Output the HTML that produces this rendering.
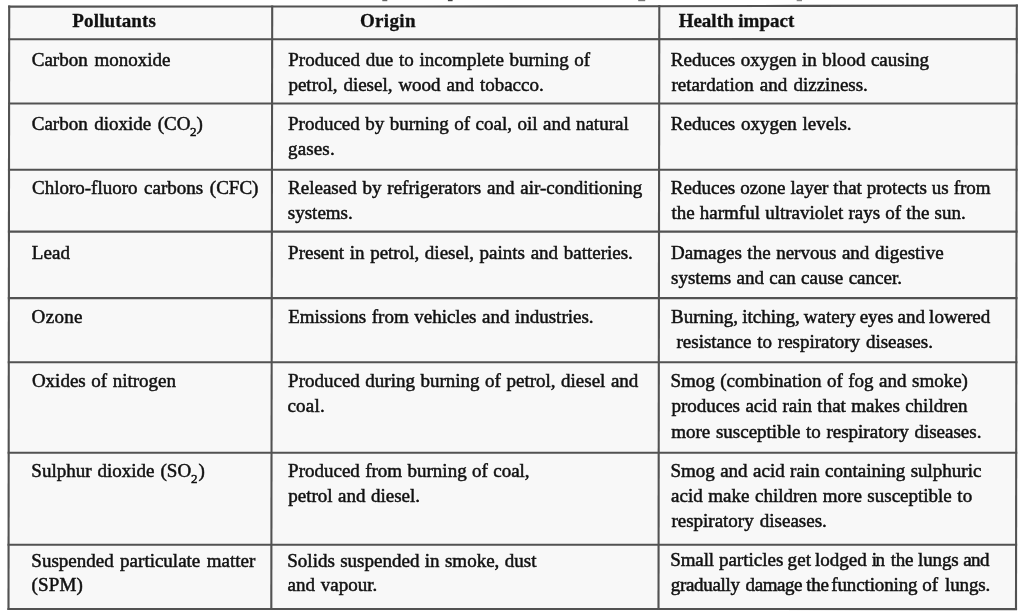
<!DOCTYPE html>
<html><head><meta charset="utf-8"><style>
html,body{margin:0;padding:0;background:#fff;width:1024px;height:614px;overflow:hidden}
svg{display:block;will-change:transform;}
line,polyline{stroke:#525252;stroke-width:2.1px}
text{font-family:"Liberation Serif",serif;font-size:19.0px;fill:#111;stroke:#111;stroke-width:0.5px;}
text.b{font-weight:bold;font-size:19.0px;stroke-width:0.3px}
text.s{font-size:13px}
</style></head><body>
<svg width="1024" height="614" viewBox="0 0 1024 614">
<g>
<rect width="1024" height="614" fill="#fff"/>
<polygon points="9.2,6.6 1016.8,5.7 1016.0,609.1 8.5,609.0" fill="#f8f8f8"/>
<polyline points="8.15,6.6 420,6.5 645,6.2 800,5.9 1017.85,5.6" fill="none"/>
<line x1="8.11" y1="39.3" x2="1017.81" y2="39.1"/>
<line x1="8.04" y1="103.5" x2="1017.72" y2="103.5"/>
<line x1="7.96" y1="169.8" x2="1017.63" y2="169.8"/>
<line x1="7.89" y1="231.6" x2="1017.55" y2="231.6"/>
<line x1="7.81" y1="298.1" x2="1017.46" y2="298.1"/>
<line x1="7.74" y1="362.2" x2="1017.38" y2="362.2"/>
<line x1="7.63" y1="452.7" x2="1017.26" y2="452.7"/>
<line x1="7.52" y1="544.8" x2="1017.14" y2="544.8"/>
<line x1="7.45" y1="609.0" x2="1017.05" y2="609.1"/>
<line x1="9.2" y1="5.55" x2="8.5" y2="610.05"/>
<line x1="272.2" y1="5.49" x2="271.3" y2="610.05"/>
<line x1="659.3" y1="5.12" x2="658.5" y2="610.05"/>
<line x1="1016.8" y1="4.55" x2="1016.0" y2="610.05"/>
<rect x="382.3" y="0" width="5.0" height="1.2" fill="#666"/>
<rect x="447.9" y="0" width="4.7" height="1.2" fill="#444"/>
<rect x="638.2" y="0" width="7.0" height="1.2" fill="#777"/>
<rect x="796.7" y="0" width="5.3" height="1.2" fill="#888"/>
<text class="b" x="72.36" y="27.00" style="letter-spacing:0.133px">Pollutants</text>
<text class="b" x="359.98" y="27.30" style="letter-spacing:0.342px">Origin</text>
<text class="b" x="678.65" y="26.80" style="word-spacing:0.00px">Health impact</text>
<text x="31.73" y="66.00" style="word-spacing:2.07px">Carbon monoxide</text>
<text x="288.31" y="66.00" style="word-spacing:0.96px">Produced due to incomplete burning of</text>
<text x="288.43" y="90.80" style="word-spacing:1.17px">petrol, diesel, wood and tobacco.</text>
<text x="670.87" y="65.80" style="word-spacing:0.68px">Reduces oxygen in blood causing</text>
<text x="671.39" y="90.50" style="word-spacing:1.43px">retardation and dizziness.</text>
<text x="31.73" y="129.90" style="word-spacing:1.81px">Carbon dioxide (CO</text>
<text class="s" x="189.90" y="136.40">2</text>
<text x="196.40" y="129.90">)</text>
<text x="288.00" y="130.10" style="word-spacing:0.73px">Produced by burning of coal, oil and natural</text>
<text x="288.04" y="155.20" style="letter-spacing:0.138px">gases.</text>
<text x="670.87" y="129.80" style="word-spacing:0.94px">Reduces oxygen levels.</text>
<text x="31.99" y="194.40" style="word-spacing:1.85px">Chloro-fluoro carbons (CFC)</text>
<text x="288.09" y="194.20" style="word-spacing:1.09px">Released by refrigerators and air-conditioning</text>
<text x="287.86" y="219.20" style="letter-spacing:-0.010px">systems.</text>
<text x="670.87" y="194.30" style="word-spacing:0.18px">Reduces ozone layer that protects us from</text>
<text x="671.46" y="219.40" style="word-spacing:0.42px">the harmful ultraviolet rays of the sun.</text>
<text x="31.65" y="258.70" style="letter-spacing:0.165px">Lead</text>
<text x="288.09" y="259.00" style="word-spacing:0.92px">Present in petrol, diesel, paints and batteries.</text>
<text x="671.09" y="258.70" style="word-spacing:0.85px">Damages the nervous and digestive</text>
<text x="671.06" y="283.90" style="word-spacing:0.61px">systems and can cause cancer.</text>
<text x="31.60" y="322.70" style="letter-spacing:0.335px">Ozone</text>
<text x="288.13" y="323.00" style="word-spacing:0.77px">Emissions from vehicles and industries.</text>
<text x="671.09" y="322.60" style="word-spacing:-0.63px">Burning, itching, watery eyes and lowered</text>
<text x="676.50" y="347.80" style="word-spacing:1.06px">resistance to respiratory diseases.</text>
<text x="31.89" y="386.90" style="word-spacing:0.81px">Oxides of nitrogen</text>
<text x="288.09" y="387.30" style="word-spacing:0.77px">Produced during burning of petrol, diesel and</text>
<text x="287.43" y="412.30" style="letter-spacing:0.240px">coal.</text>
<text x="670.39" y="386.90" style="word-spacing:0.73px">Smog (combination of fog and smoke)</text>
<text x="671.43" y="412.00" style="word-spacing:0.64px">produces acid rain that makes children</text>
<text x="671.22" y="437.60" style="word-spacing:0.91px">more susceptible to respiratory diseases.</text>
<text x="31.36" y="476.60" style="word-spacing:1.26px">Sulphur dioxide (SO</text>
<text class="s" x="191.10" y="483.10">2</text>
<text x="198.50" y="476.60">)</text>
<text x="288.09" y="476.90" style="word-spacing:0.63px">Produced from burning of coal,</text>
<text x="288.22" y="502.30" style="word-spacing:0.74px">petrol and diesel.</text>
<text x="670.39" y="476.90" style="word-spacing:0.68px">Smog and acid rain containing sulphuric</text>
<text x="671.10" y="502.00" style="word-spacing:0.80px">acid make children more susceptible to</text>
<text x="671.39" y="527.30" style="word-spacing:1.37px">respiratory diseases.</text>
<text x="31.36" y="566.50" style="word-spacing:1.68px">Suspended particulate matter</text>
<text x="31.45" y="591.30" style="letter-spacing:0.199px">(SPM)</text>
<text x="287.30" y="566.70" style="word-spacing:0.66px">Solids suspended in smoke, dust</text>
<text x="287.48" y="591.40" style="word-spacing:1.22px">and vapour.</text>
<text y="566.30"><tspan x="670.30" style="letter-spacing:-0.146px">Small</tspan><tspan x="718.92" style="letter-spacing:0.003px">particles</tspan><tspan x="787.49" style="letter-spacing:0.191px">get</tspan><tspan x="814.92" style="letter-spacing:0.013px">lodged</tspan><tspan x="871.77" style="letter-spacing:-1.459px">in</tspan><tspan x="890.86" style="letter-spacing:-0.293px">the</tspan><tspan x="918.12" style="letter-spacing:-0.164px">lungs</tspan><tspan x="963.19" style="letter-spacing:-0.622px">and</tspan></text>
<text y="591.00"><tspan x="670.69" style="letter-spacing:-0.306px">gradually</tspan><tspan x="745.55" style="letter-spacing:-0.416px">damage</tspan><tspan x="806.36" style="letter-spacing:-0.293px">the</tspan><tspan x="831.28" style="letter-spacing:-0.131px">functioning</tspan><tspan x="922.14" style="letter-spacing:0.204px">of</tspan><tspan x="945.12" style="letter-spacing:-0.136px">lungs.</tspan></text>
</g>
</svg>
</body></html>
